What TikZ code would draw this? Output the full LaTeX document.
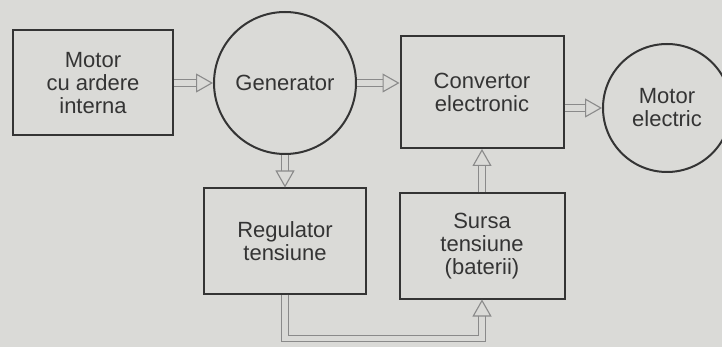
\documentclass[tikz,border=0pt]{standalone}
\usepackage{fontspec}
\setmainfont{Liberation Sans}
\usetikzlibrary{arrows.meta, positioning}
\definecolor{paper}{RGB}{218,218,215}
\definecolor{ink}{RGB}{52,52,52}
\definecolor{pipe}{RGB}{138,138,138}

\begin{document}
\begin{tikzpicture}[
  x=0.5pt, y=-0.5pt,
  font        = \fontsize{11}{11.5}\selectfont,
  % boxes and machines share the same dark outline
  block/.style = {draw=ink, line width=1pt, text=ink, align=center,
                  inner sep=2pt},
  machine/.style = {block, circle, inner sep=0pt},
  flow/.style  = {draw=pipe, line width=0.55pt, double=paper,
                  double distance=2.8pt,
                  -{Triangle[open, length=8.5pt, width=9.5pt]}},
]

\fill[paper] (0,0) rectangle (722,347);
\useasboundingbox (0,0) rectangle (722,347);

% Top row: y = 83 .. 108.  Bottom row: y = 241
\node[block, minimum width=80pt, minimum height=52.5pt]   (motor) at (93, 83)
      {Motor\\cu ardere\\interna};

\node[machine, minimum size=71pt]                         (gen)   at (285, 83)
      {Generator};

\node[block, minimum width=81.5pt, minimum height=56pt]   (conv)  at (482, 92)
      {Convertor\\electronic};

\node[machine, minimum size=64pt]                         (mel)   at (667, 108)
      {Motor\\electric};

\node[block, minimum width=81pt, minimum height=52.5pt]   (reg)   at (285, 241)
      {Regulator\\tensiune};

\node[block, minimum width=82.5pt, minimum height=52.5pt] (sursa) at (482, 246)
      {Sursa\\tensiune\\(baterii)};

% ── Arrows ─────────────────────────────────────────────────────────────────────
\draw[flow] (motor.east) -- (gen.west);
\draw[flow] (gen.east)   -- (gen.east -| conv.west);
\draw[flow] (conv.east |- mel.west) -- (mel.west);
\draw[flow] (gen.south)  -- (reg.north);
\draw[flow] (sursa.north) -- (conv.south);
\draw[flow] (reg.south)  -- ++(0,44) -| (sursa.south);

\end{tikzpicture}
\end{document}
